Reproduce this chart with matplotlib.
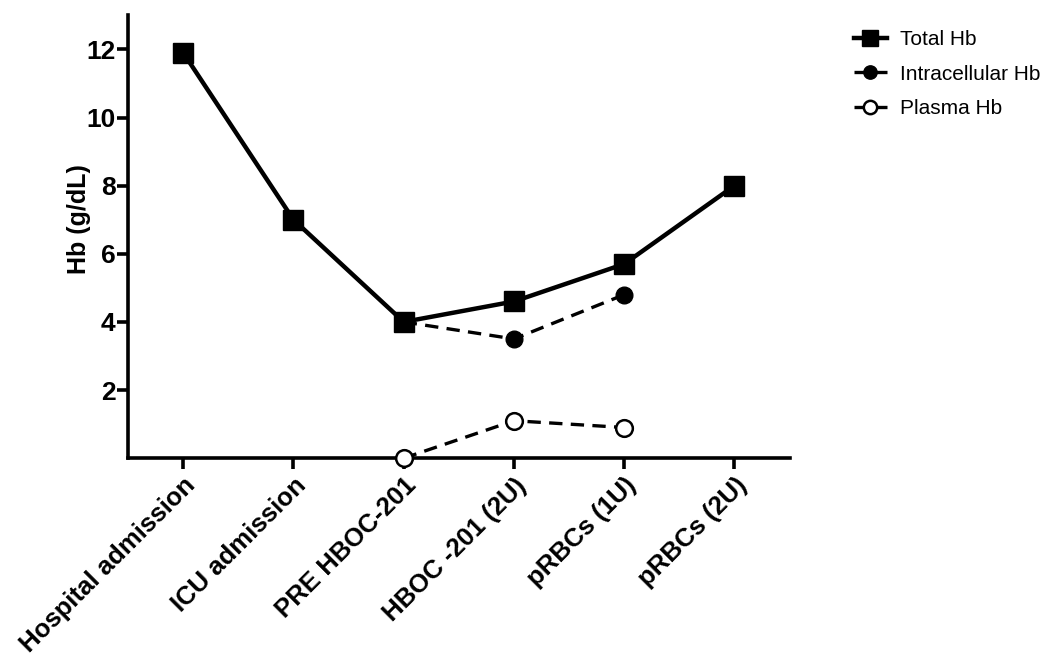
import matplotlib
matplotlib.use("Agg")
import matplotlib.pyplot as plt
import numpy as np

categories = ["Hospital admission", "ICU admission", "PRE HBOC-201",
              "HBOC -201 (2U)", "pRBCs (1U)", "pRBCs (2U)"]
total_hb = [11.9, 7.0, 4.0, 4.6, 5.7, 8.0]
intracellular_hb = [np.nan, np.nan, 4.0, 3.5, 4.8, np.nan]
plasma_hb = [np.nan, np.nan, 0.0, 1.1, 0.9, np.nan]
y_ticks = [2, 4, 6, 8, 10, 12]

plt.rcParams['font.family'] = ['Liberation Sans', 'DejaVu Sans']

fig = plt.figure(figsize=(10.5, 6.65), dpi=100)
ax = fig.add_axes([0.122, 0.311, 0.630, 0.666])

x = np.arange(len(categories))
ax.plot(x, total_hb, color='black', lw=3.2, marker='s', ms=14,
        label='Total Hb', zorder=4, clip_on=False)
ax.plot(x, intracellular_hb, color='black', lw=2.4, ls=(0, (4, 2.5)), marker='o', ms=12,
        label='Intracellular Hb', zorder=3, clip_on=False)
ax.plot(x, plasma_hb, color='black', lw=2.4, ls=(0, (4, 2.5)), marker='o', ms=12,
        mfc='white', mew=1.8, label='Plasma Hb', zorder=3, clip_on=False)

ax.set_xlim(-0.5, 5.5)
ax.set_ylim(0, 13)
ax.set_yticks(y_ticks)
ax.set_yticklabels([str(t) for t in y_ticks], fontsize=19, fontweight='bold')
ax.set_xticks(x)
ax.set_xticklabels(categories, rotation=45, ha='right', rotation_mode='anchor',
                   fontsize=18.5, fontweight='bold')
ax.set_ylabel('Hb (g/dL)', fontsize=18, fontweight='bold', labelpad=-3)
ax.yaxis.label.set_y(0.54)

for s in ['top', 'right']:
    ax.spines[s].set_visible(False)
for s in ['left', 'bottom']:
    ax.spines[s].set_linewidth(2.6)
ax.tick_params(axis='both', direction='out', length=8, width=2.6, pad=3)
ax.tick_params(axis='y', pad=1)

leg = ax.legend(loc='upper left', bbox_to_anchor=(1.075, 1.0), frameon=False,
                fontsize=15, handlelength=1.6, handletextpad=0.6, labelspacing=0.75,
                markerscale=0.8, borderaxespad=0.3)

fig.savefig('out.png', dpi=100)
